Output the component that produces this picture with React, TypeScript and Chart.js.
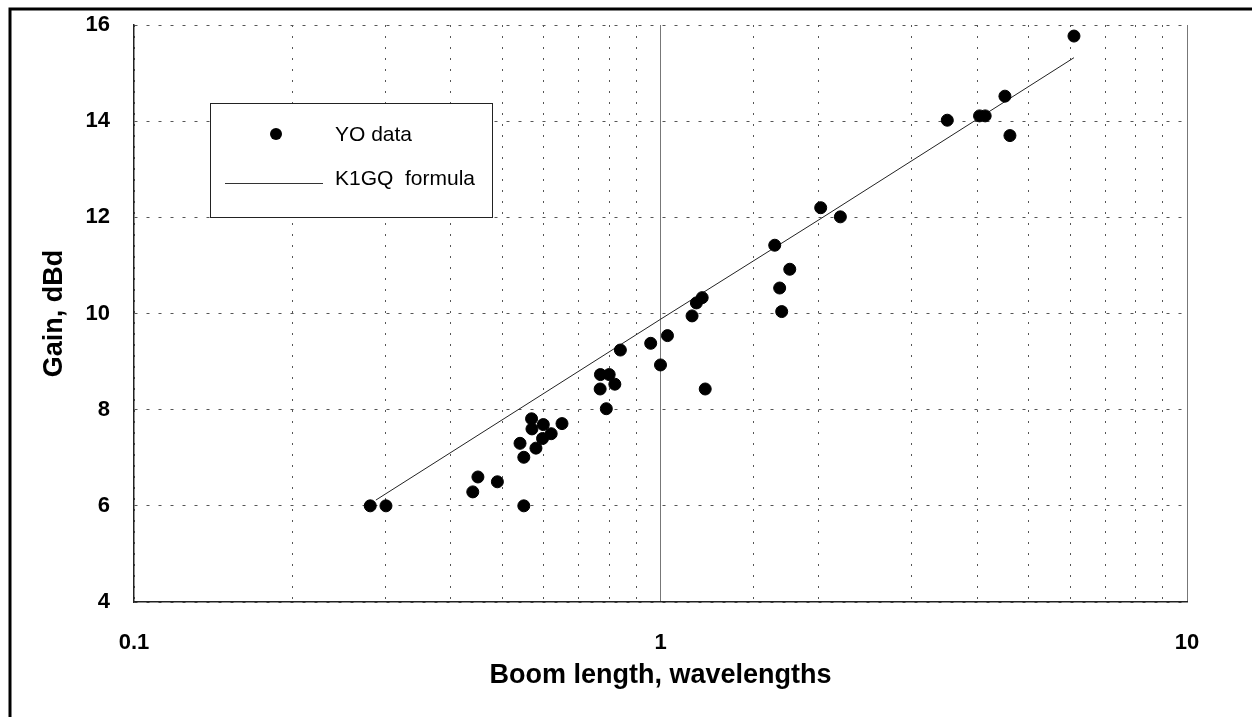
import React, { useEffect, useRef } from "react";
import { Chart, registerables } from "chart.js";

Chart.register(...registerables);

// YO data (boom length in wavelengths, gain in dBd)
const yoLength = [
  0.281, 0.301, 0.44, 0.45, 0.49, 0.55, 0.55, 0.541, 0.58, 0.569, 0.57, 0.599, 0.597, 0.62, 0.65,
  0.769, 0.799, 0.768, 0.819, 0.789, 0.839, 0.958, 1.031, 1.0, 1.216, 1.148, 1.17, 1.2, 1.648,
  1.76, 1.684, 1.699, 2.015, 2.196, 3.505, 4.036, 4.137, 4.51, 4.61, 6.1,
];
const yoGain = [
  6.0, 6.0, 6.29, 6.6, 6.5, 6.0, 7.01, 7.3, 7.2, 7.81, 7.6, 7.69, 7.4, 7.5, 7.71,
  8.73, 8.73, 8.43, 8.53, 8.02, 9.24, 9.38, 9.54, 8.93, 8.43, 9.95, 10.22, 10.33, 11.42,
  10.92, 10.53, 10.04, 12.2, 12.01, 14.02, 14.11, 14.11, 14.52, 13.7, 15.77,
];

// K1GQ formula line
const k1gqLength = [0.288, 1, 2, 6.1];
const k1gqGain = [6.12, 9.88, 11.95, 15.32];

const xMajorLabels = [0.1, 1, 10];
const yTicks = [4, 6, 8, 10, 12, 14, 16];

const seriesNames = ["YO data", "K1GQ  formula"];
const xTitle = "Boom length, wavelengths";
const yTitle = "Gain, dBd";

const FONT = "'Liberation Sans', Arial, Helvetica, sans-serif";

const framePlugin = {
  id: "outerFrame",
  beforeDraw(chart: any) {
    const ctx = chart.ctx;
    ctx.save();
    ctx.strokeStyle = "#000";
    ctx.lineWidth = 3;
    ctx.beginPath();
    ctx.moveTo(10, chart.height);
    ctx.lineTo(10, 9);
    ctx.lineTo(chart.width, 9);
    ctx.stroke();
    ctx.restore();
  },
};

const legendPlugin = {
  id: "boxLegend",
  afterDraw(chart: any) {
    const ctx = chart.ctx;
    const ca = chart.chartArea;
    const x = ca.left + 76;
    const y = ca.top + 78;
    const w = 282;
    const h = 114;
    ctx.save();
    ctx.fillStyle = "#fff";
    ctx.fillRect(x, y, w, h);
    ctx.strokeStyle = "#222";
    ctx.lineWidth = 1;
    ctx.strokeRect(x + 0.5, y + 0.5, w, h);
    ctx.fillStyle = "#000";
    ctx.beginPath();
    ctx.arc(x + 66, y + 31, 6, 0, Math.PI * 2);
    ctx.fill();
    ctx.strokeStyle = "#333";
    ctx.lineWidth = 1;
    ctx.beginPath();
    ctx.moveTo(x + 15, y + 80.5);
    ctx.lineTo(x + 113, y + 80.5);
    ctx.stroke();
    ctx.fillStyle = "#000";
    ctx.font = `21px ${FONT}`;
    ctx.textBaseline = "middle";
    ctx.textAlign = "left";
    ctx.fillText(chart.data.datasets[0].label, x + 125, y + 32);
    ctx.fillText(chart.data.datasets[1].label, x + 125, y + 76);
    ctx.restore();
  },
};

export default function App() {
  const ref = useRef<HTMLCanvasElement | null>(null);

  useEffect(() => {
    if (!ref.current) return;
    const chart = new Chart(ref.current, {
      type: "scatter",
      data: {
        datasets: [
          {
            label: seriesNames[0],
            data: yoLength.map((v, i) => ({ x: v, y: yoGain[i] })),
            backgroundColor: "#000",
            borderColor: "#000",
            pointRadius: 6,
            pointHoverRadius: 6,
            showLine: false,
            order: 1,
          },
          {
            label: seriesNames[1],
            data: k1gqLength.map((v, i) => ({ x: v, y: k1gqGain[i] })),
            borderColor: "#222",
            borderWidth: 1,
            pointRadius: 0,
            showLine: true,
            fill: false,
            order: 2,
          },
        ],
      },
      options: {
        responsive: false,
        animation: false,
        layout: { padding: { left: 0, right: 65, top: 25, bottom: 0 } },
        plugins: {
          legend: { display: false },
          tooltip: { enabled: false },
        },
        scales: {
          x: {
            type: "logarithmic",
            min: 0.1,
            max: 10,
            afterFit: (s: any) => {
              s.height = 717 - 602;
            },
            grid: {
              color: (c: any) => {
                const v = c.tick ? c.tick.value : 0;
                return Math.abs(v - 1) < 1e-9 || Math.abs(v - 10) < 1e-9 ? "#777" : "#555";
              },
              lineWidth: 1,
              drawTicks: false,
            },
            border: {
              display: true,
              color: "#222",
              width: 1.5,
              dash: (c: any) => {
                const v = c && c.tick ? c.tick.value : 0;
                return Math.abs(v - 1) < 1e-9 || Math.abs(v - 10) < 1e-9 ? [] : [2, 9];
              },
            },
            ticks: {
              autoSkip: false,
              maxRotation: 0,
              padding: 28,
              color: "#000",
              font: { family: FONT, size: 22, weight: "bold" },
              callback: (v: any) => {
                const n = Number(v);
                const hit = xMajorLabels.find((m) => Math.abs(m - n) < 1e-9);
                return hit !== undefined ? String(hit) : "";
              },
            },
            title: {
              display: true,
              text: xTitle,
              color: "#000",
              font: { family: FONT, size: 27, weight: "bold" },
              padding: { top: 0, bottom: 25 },
            },
          },
          y: {
            type: "linear",
            min: yTicks[0],
            max: yTicks[yTicks.length - 1],
            afterFit: (s: any) => {
              s.width = 134;
            },
            grid: {
              color: "#555",
              lineWidth: 1,
              drawTicks: true,
              tickLength: 13,
              tickColor: "rgba(0,0,0,0)",
            },
            border: { display: true, color: "#222", width: 1.5, dash: [3, 9] },
            ticks: {
              stepSize: 2,
              padding: 11,
              color: "#000",
              font: { family: FONT, size: 22, weight: "bold" },
            },
            title: {
              display: true,
              text: yTitle,
              color: "#000",
              font: { family: FONT, size: 27, weight: "bold" },
              padding: { top: 38, bottom: 0 },
            },
          },
        },
      } as any,
      plugins: [framePlugin, legendPlugin],
    });
    return () => chart.destroy();
  }, []);

  return (
    <div style={{ position: "absolute", left: 0, top: 0, width: 1252, height: 717, background: "#fff" }}>
      <canvas ref={ref} width={1252} height={717} style={{ display: "block" }} />
    </div>
  );
}
